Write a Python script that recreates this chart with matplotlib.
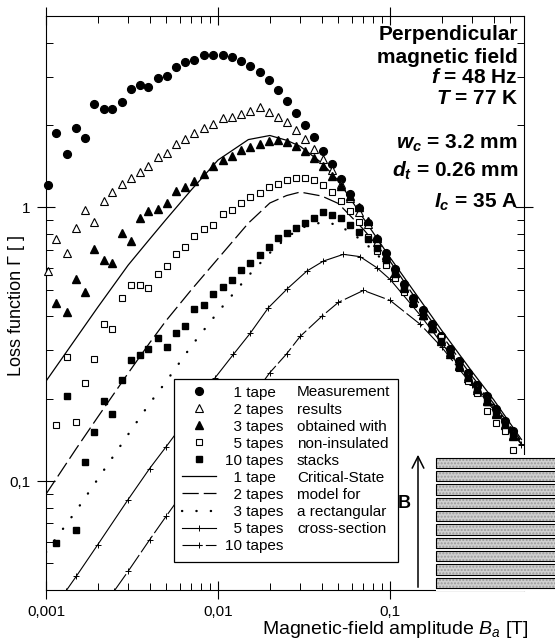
import numpy as np
import matplotlib
matplotlib.use("Agg")
import matplotlib.pyplot as plt
from matplotlib.patches import Rectangle, FancyArrowPatch
from matplotlib.ticker import LogLocator, NullFormatter

plt.rcParams['font.family'] = ['Liberation Sans', 'DejaVu Sans']
plt.rcParams['mathtext.fontset'] = 'custom'
plt.rcParams['mathtext.rm'] = 'Liberation Sans'
plt.rcParams['mathtext.it'] = 'Liberation Sans:italic'
plt.rcParams['mathtext.bf'] = 'Liberation Sans:bold'
if 'mathtext.bfit' in plt.rcParams:
    plt.rcParams['mathtext.bfit'] = 'Liberation Sans:italic:bold'

nan = np.nan
# ---------------- data ----------------
B_meas = [0.001034, 0.00115, 0.001324, 0.001494, 0.001685, 0.00191, 0.00216, 0.00243,
          0.002748, 0.003099, 0.00352, 0.003934, 0.004449, 0.00503, 0.0057, 0.006428,
          0.007253, 0.008234, 0.009352, 0.01065, 0.01202, 0.01366, 0.01535, 0.01755,
          0.01972, 0.02223, 0.02518, 0.02852, 0.03218, 0.036, 0.04078, 0.04601, 0.0519,
          0.0583, 0.0663, 0.07476, 0.08369, 0.09478, 0.1069, 0.1206, 0.1366, 0.1549,
          0.1748, 0.1971, 0.2233, 0.2528, 0.2852, 0.3218, 0.3649, 0.4133, 0.4662, 0.519]

meas_1 = [1.204, 1.865, 1.563, 1.950, 1.792, 2.380, 2.282, 2.282, 2.427, 2.716, 2.810, 2.747,
          2.970, 3.013, 3.269, 3.390, 3.439, 3.595, 3.616, 3.604, 3.556, 3.410, 3.286, 3.134,
          2.913, 2.678, 2.448, 2.212, 2.000, 1.803, 1.612, 1.445, 1.273, 1.118, 0.994, 0.879,
          0.764, 0.679, 0.593, 0.523, 0.468, 0.420, 0.376, 0.338, 0.303, 0.274, 0.249, 0.225,
          0.204, 0.183, 0.166, 0.152]
meas_2 = [0.585, 0.768, 0.683, 0.840, 0.977, 0.884, 1.052, 1.141, 1.221, 1.280, 1.346, 1.416,
          1.527, 1.585, 1.710, 1.783, 1.865, 1.950, 2.012, 2.116, 2.146, 2.194, 2.244, 2.326,
          2.231, 2.146, 2.058, 1.917, 1.773, 1.639, 1.507, 1.366, 1.214, 1.085, 0.964, 0.867,
          0.745, 0.660, 0.580, 0.508, 0.455, 0.405, 0.366, 0.329, 0.295, 0.266, 0.242, 0.219,
          0.198, 0.178, 0.161, 0.147]
meas_3 = [nan, 0.4457, 0.4143, 0.5454, 0.490, 0.7063, 0.6416, 0.6278, 0.808, 0.751, 0.914, 0.967,
          0.983, 1.034, 1.151, 1.190, 1.248, 1.324, 1.416, 1.485, 1.537, 1.620, 1.667, 1.710,
          1.753, 1.762, 1.733, 1.675, 1.607, 1.519, 1.416, 1.301, 1.196, 1.100, 1.000, 0.891,
          0.770, 0.668, 0.578, 0.512, 0.452, 0.403, 0.362, 0.326, 0.292, 0.263, 0.238, 0.216,
          0.196, 0.176, 0.160, 0.146]
meas_5 = [nan, 0.1605, 0.2828, 0.1646, 0.2278, 0.2797, 0.3734, 0.358, 0.4661, 0.5186, 0.5216,
          0.5086, 0.5689, 0.6119, 0.6773, 0.7185, 0.7834, 0.8359, 0.8643, 0.9484, 0.981, 1.040,
          1.091, 1.132, 1.186, 1.221, 1.258, 1.284, 1.284, 1.258, 1.206, 1.137, 1.052, 0.967,
          0.8864, 0.777, 0.690, 0.614, 0.550, 0.489, 0.442, 0.4005, 0.363, 0.335, 0.294, 0.259,
          0.232, 0.210, 0.180, 0.163, 0.153, 0.130]
meas_10 = [nan, 0.0594, 0.2042, 0.0665, 0.1172, 0.1508, 0.1957, 0.1761, 0.2336, 0.2758, 0.2876,
           0.3026, 0.3319, 0.3085, 0.3470, 0.3681, 0.4239, 0.4382, 0.4834, 0.5099, 0.5422, 0.5884,
           0.6278, 0.6715, 0.7160, 0.7702, 0.808, 0.8381, 0.876, 0.9115, 0.9645, 0.940, 0.9115,
           0.8616, 0.815, 0.764, 0.708, 0.640, 0.572, 0.505, 0.449, 0.400, 0.360, 0.324, 0.290,
           0.262, 0.238, 0.216, 0.195, 0.176, 0.160, 0.147]

B_model = [0.001, 0.0015, 0.002, 0.003, 0.004, 0.005, 0.007, 0.01, 0.015, 0.02, 0.025, 0.03,
           0.04, 0.05, 0.07, 0.1, 0.15, 0.2, 0.3, 0.4, 0.58]
model_1 = [0.2317, 0.3334, 0.4316, 0.6146, 0.765, 0.9048, 1.159, 1.489, 1.768, 1.830, 1.758,
           1.671, 1.454, 1.252, 0.9115, 0.6548, 0.4571, 0.3543, 0.2506, 0.1981, 0.1418]
model_2 = [0.0896, 0.1315, 0.1714, 0.2476, 0.3196, 0.3862, 0.5000, 0.6499, 0.8754, 1.037, 1.104,
           1.137, 1.100, 1.033, 0.831, 0.6348, 0.4382, 0.3404, 0.241, 0.192, 0.1395]
model_3 = [0.0550, 0.0780, 0.1017, 0.1479, 0.192, 0.2314, 0.3116, 0.4149, 0.5622, 0.6818, 0.7738,
           0.840, 0.8814, 0.8644, 0.7511, 0.6035, 0.4201, 0.3292, 0.235, 0.1888, 0.1383]
B_model5 = [0.0013, 0.0015, 0.002, 0.003, 0.004, 0.005, 0.007, 0.00961, 0.01227, 0.01535,
            0.01961, 0.02528, 0.03279, 0.04095, 0.05353, 0.06693, 0.08369, 0.1, 0.15, 0.2,
            0.3, 0.4, 0.58]
model_5 = [0.0395, 0.0449, 0.0586, 0.0856, 0.1111, 0.1337, 0.1777, 0.2384, 0.2901, 0.3462,
           0.4298, 0.5043, 0.5849, 0.6363, 0.6734, 0.6604, 0.6020, 0.5454, 0.4029, 0.3181,
           0.2291, 0.1857, 0.1371]
B_model10 = [0.0025, 0.003, 0.004, 0.005, 0.007, 0.01, 0.015, 0.02, 0.025, 0.03, 0.04, 0.05,
             0.07, 0.1, 0.15, 0.2, 0.3, 0.4, 0.58]
model_10 = [0.0398, 0.0468, 0.0610, 0.0745, 0.100, 0.1365, 0.1946, 0.2490, 0.2913, 0.3376, 0.3995,
            0.4494, 0.4971, 0.4571, 0.3734, 0.3078, 0.2235, 0.1826, 0.136]

tape_labels = ['\u20071 tape', '\u20072 tapes', '\u20073 tapes', '\u20075 tapes', '10 tapes']
descriptions = ['Measurement', 'results', 'obtained with', 'non-insulated', 'stacks',
                'Critical-State', 'model for', 'a rectangular', 'cross-section', '']
x_ticks = [0.001, 0.01, 0.1]
x_ticklabels = ['0,001', '0,01', '0,1']
y_ticks = [0.1, 1]
y_ticklabels = ['0,1', '1']

# ---------------- figure ----------------
W, H = 555, 641
fig = plt.figure(figsize=(W / 100, H / 100), dpi=100)
ax = fig.add_axes([46 / W, 51 / H, 478 / W, 574 / H])
ax.set_xscale('log')
ax.set_yscale('log')
ax.set_xlim(0.001, 0.6)
ax.set_ylim(0.04, 5)

lk = dict(color='black', zorder=2)
h_m1, = ax.plot(B_model, model_1, '-', lw=0.9, **lk)
h_m2, = ax.plot(B_model, model_2, ls=(0, (13, 4)), lw=0.9, **lk)
h_m3, = ax.plot(B_model, model_3, ls=(0, (0.1, 6.0)), lw=1.7, dash_capstyle='round', **lk)
h_m5, = ax.plot(B_model5, model_5, '-', lw=0.8, marker='+', ms=4.5, mew=0.7, **lk)
h_m10, = ax.plot(B_model10, model_10, ls=(0, (18, 3)), lw=0.8, marker='+', ms=4.5, mew=0.7, **lk)

mk = dict(ls='none', color='black', zorder=3, clip_on=False)
h_1, = ax.plot(B_meas, meas_1, marker='o', ms=5.6, **mk)
h_2, = ax.plot(B_meas, meas_2, marker='^', ms=5.8, mfc='white', mec='black', mew=0.8, **mk)
h_3, = ax.plot(B_meas, meas_3, marker='^', ms=5.8, **mk)
h_5, = ax.plot(B_meas, meas_5, marker='s', ms=5.0, mfc='white', mec='black', mew=0.8, **mk)
h_10, = ax.plot(B_meas, meas_10, marker='s', ms=5.0, **mk)

# axes styling
for s in ax.spines.values():
    s.set_linewidth(0.8)
ax.set_xticks(x_ticks)
ax.set_xticklabels(x_ticklabels)
ax.set_yticks(y_ticks)
ax.set_yticklabels(y_ticklabels)
ax.xaxis.set_minor_locator(LogLocator(base=10, subs=np.arange(2, 10) * 1.0, numticks=30))
ax.yaxis.set_minor_locator(LogLocator(base=10, subs=np.arange(2, 10) * 1.0, numticks=30))
ax.xaxis.set_minor_formatter(NullFormatter())
ax.yaxis.set_minor_formatter(NullFormatter())
ax.tick_params(which='major', direction='inout', length=13, width=0.8, top=True, right=True,
               labelsize=11)
ax.tick_params(which='minor', direction='in', length=5, width=0.7, top=True, right=True)
ax.tick_params(axis='x', pad=4.5)
ax.tick_params(axis='y', pad=4.5)

ax.set_xlabel('Magnetic-field amplitude $B_a$ [T]', fontsize=14)
ax.xaxis.set_label_coords((262 - 46) / 478, (590 - 629) / 574)
ax.xaxis.label.set_ha('left')
ax.xaxis.label.set_va('center')
ax.set_ylabel('Loss function Γ [ ]', fontsize=13)
ax.yaxis.set_label_coords((17 - 46) / 478, 1 - (306 - 16) / 574)
ax.yaxis.label.set_va('center')

# annotation block (top right)
ann = [('Perpendicular', 40), ('magnetic field', 63.3), (r'$\mathbfit{f}$ = 48 Hz', 83.3),
       (r'$\mathbfit{T}$ = 77 K', 103.5), (r'$\mathbfit{w}_{\mathbfit{c}}$ = 3.2 mm', 148.3),
       (r'$\mathbfit{d}_{\mathbfit{t}}$ = 0.26 mm', 176.7), (r'$\mathbfit{I}_{\mathbfit{c}}$ = 35 A', 207.3)]
for s, yb in ann:
    ax.text(518 / W, 1 - yb / H, s, transform=fig.transFigure, ha='right', va='baseline',
            fontsize=15, fontweight='bold', zorder=6)

# legend
handles = [h_1, h_2, h_3, h_5, h_10, h_m1, h_m2, h_m3, h_m5, h_m10]
labels = tape_labels + tape_labels
leg = ax.legend(handles, labels, loc='upper left',
                bbox_to_anchor=(181.7 / W, 1 - 385.5 / H), bbox_transform=fig.transFigure,
                frameon=False, fontsize=11, handlelength=2.25, handletextpad=0.6,
                labelspacing=0.2, borderpad=0, borderaxespad=0, numpoints=1)
leg.set_zorder(5)
ax.add_patch(Rectangle((174 / W, 1 - 562 / H), 224 / W, 183 / H, transform=fig.transFigure,
                       facecolor='white', edgecolor='black', lw=0.9, zorder=4.5, clip_on=False))
fig.canvas.draw()
renderer = fig.canvas.get_renderer()
inv = fig.transFigure.inverted()
for t, d in zip(leg.get_texts(), descriptions):
    bb = t.get_window_extent(renderer)
    yc = inv.transform((0, (bb.y0 + bb.y1) / 2))[1]
    ax.text(297 / W, yc, d, transform=fig.transFigure, ha='left', va='center', fontsize=11,
            zorder=6)

# inset: stack of tapes and field arrow
fig.add_artist(Rectangle((436 / W, 1 - 591 / H), 130 / W, 136 / H, transform=fig.transFigure,
                         facecolor='white', edgecolor='none', zorder=10))
top0, pitch, th = 457.5, 13.35, 10.4
for i in range(10):
    yt = top0 + i * pitch
    fig.add_artist(Rectangle((436 / W, 1 - (yt + th) / H), 130 / W, th / H,
                             transform=fig.transFigure, facecolor='#cfcfcf',
                             edgecolor='#9a9a9a', lw=0, hatch='.....', zorder=11))
    fig.add_artist(Rectangle((436 / W, 1 - (yt + th) / H), 130 / W, th / H,
                             transform=fig.transFigure, fill=False, edgecolor='black',
                             lw=0.8, zorder=12))
fig.add_artist(FancyArrowPatch((418 / W, 1 - 590 / H), (418 / W, 1 - 452 / H),
                               transform=fig.transFigure,
                               arrowstyle='->,head_length=0.7,head_width=0.35',
                               mutation_scale=12, lw=1.1, color='black', zorder=12))
fig.text(404 / W, 1 - 503 / H, 'B', fontsize=13, fontweight='bold', ha='center', va='center',
         zorder=12)

fig.savefig('out.png', dpi=100)
